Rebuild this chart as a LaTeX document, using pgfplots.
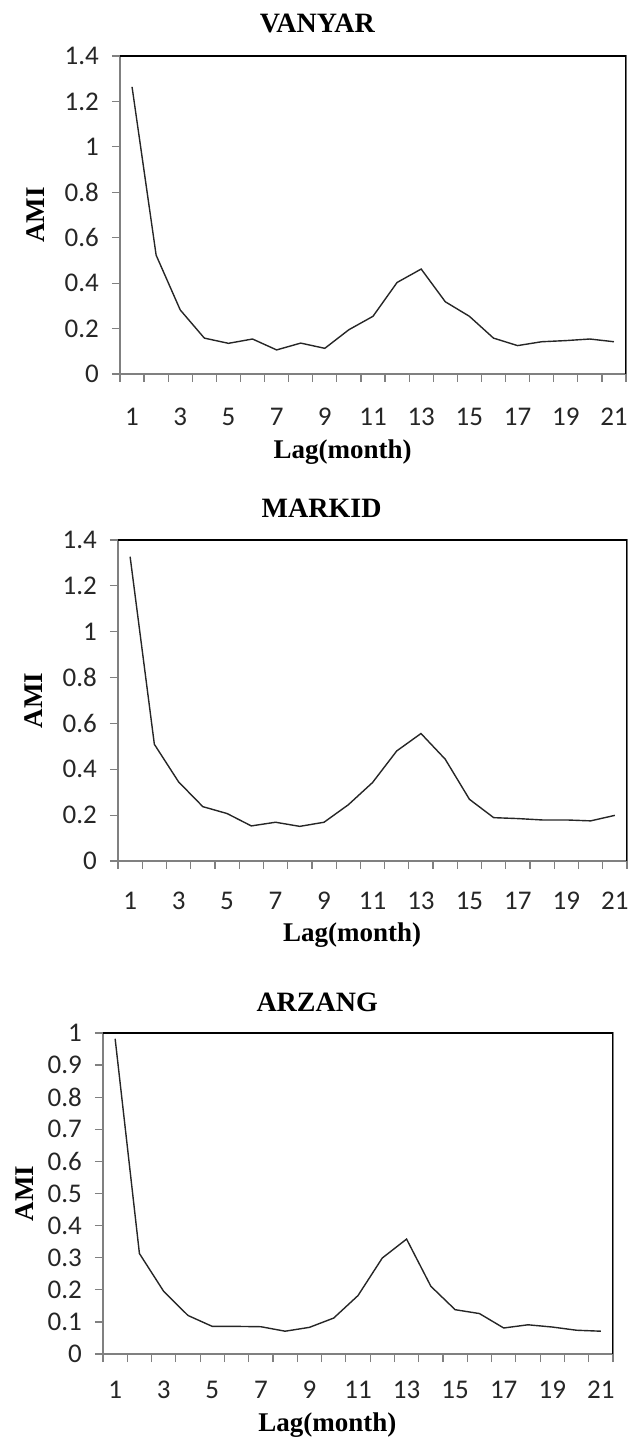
\documentclass[border=0pt]{standalone}
\usepackage{fontspec}
\setmainfont{Liberation Serif}
\newfontfamily\calfont{Carlito}
\usepackage{pgfplots}
\pgfplotsset{compat=1.18}

\pgfplotstableread{
lag ami
1 1.264
2 0.523
3 0.282
4 0.158
5 0.135
6 0.154
7 0.106
8 0.136
9 0.113
10 0.195
11 0.254
12 0.403
13 0.462
14 0.318
15 0.254
16 0.158
17 0.125
18 0.142
19 0.147
20 0.154
21 0.142
}\vanyar

\pgfplotstableread{
lag ami
1 1.327
2 0.509
3 0.345
4 0.237
5 0.207
6 0.153
7 0.169
8 0.151
9 0.169
10 0.245
11 0.342
12 0.480
13 0.556
14 0.444
15 0.269
16 0.189
17 0.185
18 0.179
19 0.179
20 0.175
21 0.199
}\markid

\pgfplotstableread{
lag ami
1 0.982
2 0.313
3 0.195
4 0.120
5 0.086
6 0.086
7 0.085
8 0.071
9 0.083
10 0.112
11 0.182
12 0.299
13 0.358
14 0.211
15 0.138
16 0.126
17 0.081
18 0.091
19 0.084
20 0.074
21 0.071
}\arzang

\pgfplotsset{
  amistyle/.style={
    scale only axis,
    anchor=south west,
    xmin=0.5, xmax=21.5,
    xtick={1,3,...,21},
    minor xtick={0.5,1.5,...,21.5},
    major x tick style={draw=none},
    minor tick length=4pt,
    major tick length=4pt,
    tick align=outside,
    tick pos=left,
    tick style={gray, line width=0.6pt},
    axis line style={gray, line width=0.6pt},
    /pgf/number format/assume math mode=true,
    ticklabel style={font=\calfont\fontsize{13.5}{15}\selectfont, text=black!85},
    yticklabel style={xshift=-3pt},
    title style={font=\bfseries\fontsize{14}{16}\selectfont},
    xlabel={Lag(month)},
    ylabel={AMI},
    label style={font=\bfseries\fontsize{13.5}{15}\selectfont},
    ylabel style={at={(axis description cs:0,0.5)}, anchor=center},
  },
}

\begin{document}
\begin{tikzpicture}
\useasboundingbox (0,0) rectangle (319pt,718.5pt);

\begin{axis}[amistyle,
  at={(60pt,531.5pt)}, width=253pt, height=159pt,
  ymin=0, ymax=1.4, ytick={0,0.2,...,1.4},
  title={VANYAR},
  title style={at={(axis description cs:0.39,1)}, anchor=center, yshift=10.5pt},
  xticklabel style={yshift=-9.5pt},
  xlabel style={at={(axis description cs:0.44,0)}, anchor=center, yshift=-39pt},
  ylabel style={yshift=42pt},
]
\addplot[black!85, line width=0.7pt] table[x=lag, y=ami] {\vanyar};
\draw[black, line width=0.8pt] (rel axis cs:0,1) -- (rel axis cs:1,1) -- (rel axis cs:1,0);
\end{axis}

\begin{axis}[amistyle,
  at={(59pt,288pt)}, width=254.5pt, height=160.5pt,
  ymin=0, ymax=1.4, ytick={0,0.2,...,1.4},
  title={MARKID},
  title style={at={(axis description cs:0.4,1)}, anchor=center, yshift=10pt},
  xticklabel style={yshift=-8pt},
  xlabel style={at={(axis description cs:0.46,0)}, anchor=center, yshift=-37pt},
  ylabel style={yshift=42pt},
]
\addplot[black!85, line width=0.7pt] table[x=lag, y=ami] {\markid};
\draw[black, line width=0.8pt] (rel axis cs:0,1) -- (rel axis cs:1,1) -- (rel axis cs:1,0);
\end{axis}

\begin{axis}[amistyle,
  at={(51.5pt,41.5pt)}, width=255pt, height=160.5pt,
  ymin=0, ymax=1, ytick={0,0.1,...,1.0},
  yticklabel style={/pgf/number format/fixed, /pgf/number format/precision=1},
  title={ARZANG},
  title style={at={(axis description cs:0.42,1)}, anchor=center, yshift=9.5pt},
  xticklabel style={yshift=-6pt},
  xlabel style={at={(axis description cs:0.44,0)}, anchor=center, yshift=-35.5pt},
  ylabel style={yshift=39pt},
]
\addplot[black!85, line width=0.7pt] table[x=lag, y=ami] {\arzang};
\draw[black, line width=0.8pt] (rel axis cs:0,1) -- (rel axis cs:1,1) -- (rel axis cs:1,0);
\end{axis}
\end{tikzpicture}
\end{document}
